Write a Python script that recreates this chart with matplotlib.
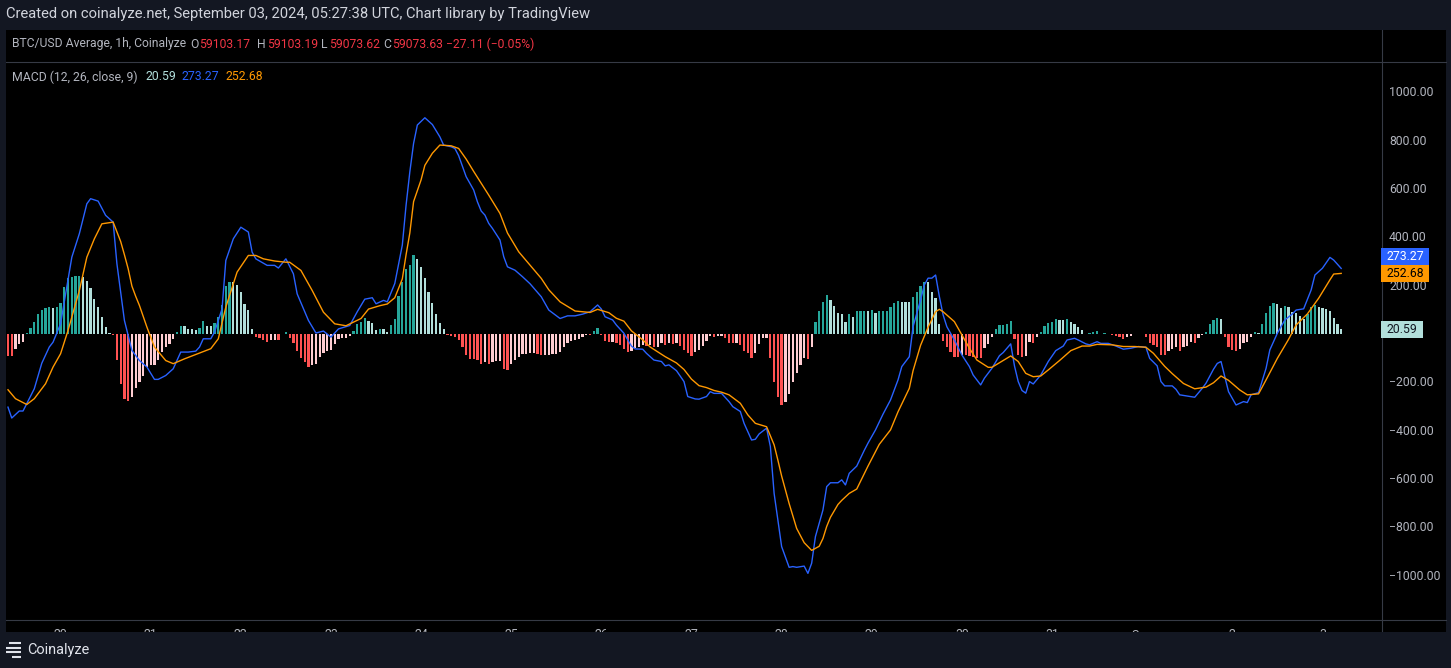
import matplotlib
matplotlib.use('Agg')
import matplotlib.pyplot as plt
import matplotlib.transforms as mtransforms
from matplotlib.patches import Rectangle
import pandas as pd

plt.rcParams['font.family'] = ['Roboto', 'DejaVu Sans']

W, H = 1451, 668

# colours (TradingView dark theme)
BG = '#131722'
PANE = '#000000'
SEP = '#363a45'
TXT = '#b2b5be'
HEAD = '#d1d4dc'
RED_TXT = '#f23645'
MACD_C = '#2962ff'
SIG_C = '#ff9800'
UP_GROW, UP_FALL = '#26a69a', '#b2dfdb'
DN_GROW, DN_FALL = '#ffcdd2', '#ff5252'

# ---------------- data ----------------
first_bar = '2024-08-19 10:00'   # hourly bars

hist = [
    -88, -88, -59, -39, -32, 5, 25, 51, 83, 103,
    108, 115, 108, 115, 129, 198, 232, 239, 240, 243,
    239, 223, 192, 146, 112, 74, 29, 5, -1, -107,
    -204, -266, -276, -259, -221, -197, -172, -135, -128, -126,
    -107, -73, -52, -39, -18, 12, 37, 33, 21, 21,
    17, 25, 54, 37, 33, 48, 74, 120, 201, 219,
    219, 203, 174, 127, 102, 21, -11, -14, -25, -32,
    -22, -21, -25, 3, 12, -15, -36, -69, -98, -114,
    -135, -128, -121, -94, -77, -69, -66, -39, -18, -15,
    -14, -8,
    14, 43, 52, 69, 55, 46, 18, 22, 22, 11,
    39, 63, 159, 218, 270, 287, 328, 312, 279, 235,
    177, 132, 84, 47, 22, -3, -6, -10, -23, -51,
    -86, -102, -102, -106, -123, -116, -123, -113, -110, -109,
    -141, -148, -124, -106, -92, -83, -79, -76, -75, -83,
    -86, -85, -84, -83, -79, -72, -54, -34, -28, -23,
    -17, -10, -3, -3, 14, 28,
    -2, -27, -32, -31, -37, -43, -60, -71, -70, -57,
    -53, -43, -46, -43, -53, -50, -37, -43, -34, -41,
    -37, -48, -64, -78, -88, -71, -64, -48, -26, -6,
    -12, -6, -5, -13, -34, -37, -36, -43, -67, -78,
    -99, -75, -41, -16, -13, -97, -198, -257, -292, -278,
    -248, -195, -161, -126, -97, -103, -53, 53, 95, 136,
    163, 143, 118, 90, 85, 50,
    85, 74, 95, 96, 99, 95, 101, 90, 95, 96,
    99, 115, 132, 140, 136, 135, 134, 157, 177, 202,
    217, 216, 177, 152, 43, -27, -50, -71, -92, -92,
    -85, -87, -90, -92, -96, -96, -57, -39, -9, 21,
    39, 40, 43, 56, -19, -85, -92, -89, -30, -34,
    -9, 9, 35, 46, 53, 63, 60, 60, 63, 53,
    43, 32, 19, 2,
    5, 9, 14, 0, 5, 0, -2, -6, -9, -17,
    -12, -6, 0, 0, 0, -9, -34, -43, -53, -87,
    -87, -67, -60, -53, -67, -50, -48, -30, -37, -13,
    -2, 10, 43, 60, 70, 64, -9, -50, -64, -68,
    -61, -34, -33, -9, 10, 8, 43, 90, 118, 131,
    126, 110, 118, 112, 93, 90, 77, 63, 85, 115,
    121, 112, 108, 104, 97, 67, 43, 20.59,
]

macd_bar = [
    0, 1, 3, 4, 7, 9, 11, 12, 14, 17, 19, 21, 22, 24, 26, 28, 29, 31, 33, 35,
    37, 39, 40, 42, 44, 46, 48, 50, 51, 52, 54, 55, 57, 58, 60, 62, 64, 65, 66, 69,
    71, 72, 74, 76, 77, 80, 82, 84, 86, 88, 91,
    93, 95, 97, 98, 100, 101, 103, 105, 106, 107, 108, 109, 111, 113, 115, 116, 118, 119, 120, 122,
    124, 125, 126, 127, 128, 129, 131, 132, 133, 135, 137, 139, 142, 144, 147, 149, 151, 153, 155, 157,
    158, 159, 161, 162, 164, 166, 167, 169, 170, 172, 174, 175, 176, 178, 180, 181, 183, 184, 186, 187,
    188, 190, 192, 193, 195, 196, 198, 199, 200, 202, 203, 204, 206, 208, 209, 210, 212, 213, 214, 215,
    217, 218, 219, 221, 222, 223, 224,
    226, 228, 229, 231, 233, 235, 237, 238, 240, 241, 243, 244, 245, 246, 247, 248, 249, 250, 252, 254,
    256, 257, 259, 260, 262, 264, 265, 267, 268, 269, 270, 271, 272, 273, 275, 277, 279, 281, 282, 284,
    285, 287,
    288, 290, 291, 293, 295, 297, 299, 301, 303, 304, 306, 307, 308, 310, 311, 312, 314, 316, 318, 319,
    321, 322, 323, 324, 325, 327, 329, 330, 331, 333, 335, 336, 338, 340, 342, 343, 345, 347, 348, 350,
    352, 353, 355,
]
macd = [
    -301, -346, -317, -317, -225, -119, -52, -32, 44, 320, 417, 541, 562, 552, 493, 465, 293, 58, -66, -108,
    -135, -186, -186, -170, -142, -73, -73, -69, -52, -18, -18, 10, 106, 306, 396, 444, 424, 341, 313, 286,
    286, 275, 313, 251, 168, 58, 6, 14, -11, 23, 37,
    94, 146, 152, 127, 141, 135, 211, 370, 535, 673, 791, 867, 897, 869, 818, 784, 777, 770, 740, 653,
    598, 549, 511, 494, 460, 439, 391, 322, 280, 266, 239, 210, 156, 101, 66, 77, 77, 84, 94, 122,
    105, 73, 60, 39, 5, -48, -60, -61, -78, -106, -112, -130, -126, -150, -195, -257, -267, -268, -257, -237,
    -244, -244, -278, -299, -319, -368, -437, -434, -412, -388, -464, -658, -878, -964, -961, -964, -959, -989, -947, -837,
    -727, -630, -614, -614, -602, -623, -575,
    -545, -480, -450, -395, -330, -271, -188, -133, -92, 32, 143, 205, 233, 233, 246, 157, 81, 32, -23, -85,
    -133, -168, -209, -181, -140, -88, -75, -39, -130, -195, -232, -243, -195, -205, -168, -112, -67, -48, -23, -16,
    -23, -39,
    -43, -30, -37, -37, -48, -61, -57, -50, -53, -99, -130, -195, -213, -213, -227, -250, -255, -260, -223, -202,
    -144, -120, -112, -175, -237, -292, -278, -282, -250, -241, -140, -64, 5, 60, 85, 101, 106, 184, 246, 274,
    319, 308, 273.27,
]

signal_bar = [
    0, 2, 5, 7, 10, 12, 14, 16, 19, 21, 23, 25, 28, 29, 30, 31, 32, 33, 34, 35,
    37, 39, 42, 44, 47, 51, 54, 56, 58, 61, 64, 66, 68, 71, 74, 75, 78, 81, 84, 87, 90,
    94, 96, 99, 101, 103, 105, 106, 107, 108, 110, 111, 113, 115, 118, 120, 122, 124, 128, 131,
    133, 136, 139, 142, 144, 147, 151, 155, 157,
    160, 162, 164, 166, 169, 171, 175, 178, 180, 182, 184, 186, 188, 190, 192, 195, 197, 199, 202, 204,
    205, 206, 208, 210, 212, 214, 216, 217, 218, 219, 221, 222, 224,
    226, 229, 232, 235, 237, 240, 241, 243, 245, 247, 248, 249, 252, 254, 256, 258, 261, 262, 264, 267,
    269, 271, 273, 275, 277, 280, 283, 286, 288,
    290, 294, 297, 300, 303, 305, 308, 310, 313, 316, 319, 321, 323, 325, 328, 330, 333, 335, 338, 341,
    343, 346, 349, 352, 353, 355,
]
signal = [
    -229, -266, -290, -266, -204, -135, -80, 17, 182, 320, 396, 458, 465, 425, 385, 330, 272, 200, 158, 120,
    30, -52, -108, -121, -101, -77, -59, -18, 113, 258, 327, 327, 313, 304, 299, 299, 265, 182, 92, 44, 36,
    66, 105, 119, 126, 152, 230, 330, 420, 550, 640, 700, 750, 784, 781, 770, 726, 675, 577, 501,
    420, 342, 287, 232, 185, 135, 97, 91, 104,
    90, 67, 55, 15, -22, -52, -92, -118, -145, -185, -212, -220, -232, -239, -250, -285, -333, -368, -382, -457,
    -520, -586, -700, -803, -862, -894, -877, -845, -795, -757, -704, -687, -658,
    -640, -545, -455, -395, -320, -223, -150, -45, 30, 94, 104, 94, 53, -2, -57, -106, -136, -136, -117, -89,
    -112, -161, -175, -172, -147, -108, -67, -48, -48,
    -41, -43, -50, -50, -53, -78, -132, -162, -203, -225, -218, -200, -172, -190, -230, -250, -246, -188, -99, -20,
    39, 85, 150, 226, 250, 252.68,
]

last_hist, last_macd, last_signal = hist[-1], macd[-1], signal[-1]
macd_params = 'MACD (12, 26, close, 9)'
symbol_label = 'BTC/USD Average, 1h, Coinalyze'
ohlc_keys = ['O', 'H', 'L', 'C']
ohlc_vals = ['59103.17', '59103.19', '59073.62', '59073.63']
change_txt = '\u221227.11 (\u22120.05%)'
y_ticks = [-1000, -800, -600, -400, -200, 0, 200, 400, 600, 800, 1000]
header = 'Created on coinalyze.net, September 03, 2024, 05:27:38 UTC, Chart library by TradingView'

# ---------------- figure ----------------
fig = plt.figure(figsize=(W / 100, H / 100), dpi=100, facecolor=BG)
renderer = fig.canvas.get_renderer()

# pixel-space overlay for the panes, separators and legend texts
base = fig.add_axes([0, 0, 1, 1], zorder=0)
base.set_xlim(0, W)
base.set_ylim(H, 0)
base.axis('off')
base.add_patch(Rectangle((6, 30), 1440, 602, fc=PANE, ec='none'))
base.plot([6, 1446], [61.5, 61.5], color=SEP, lw=0.8)
base.plot([6, 1446], [619.5, 619.5], color=SEP, lw=0.8)
base.plot([1381.5, 1381.5], [30, 632], color=SEP, lw=0.8)


def fit(t, width):
    bb = t.get_window_extent(renderer)
    t.set_fontsize(t.get_fontsize() * width / bb.width)
    return t


def tw(t):
    return t.get_window_extent(renderer).width


fit(base.text(6, 14, header, color=HEAD, fontsize=10, va='center'), 583)

# price pane legend
row = fit(base.text(12, 44, symbol_label, color=TXT, fontsize=9, va='center'), 174)
fs = row.get_fontsize()
for x0, k, v in zip([190, 257, 321.5, 383], ohlc_keys, ohlc_vals):
    t = base.text(x0, 44, k, color=TXT, fontsize=fs, va='center')
    base.text(x0 + tw(t) + 1, 44, v, color=RED_TXT, fontsize=fs, va='center')
base.text(446, 44, change_txt, color=RED_TXT, fontsize=fs, va='center')

# MACD pane legend
lab = fit(base.text(12, 77, macd_params, color=TXT, fontsize=9, va='center'), 126)
fs = lab.get_fontsize()
for x0, v, c in zip([145, 182, 225], [last_hist, last_macd, last_signal], [UP_FALL, MACD_C, SIG_C]):
    base.text(x0, 77, f'{v:.2f}', color=c, fontsize=fs, va='center')

# ---------------- MACD pane ----------------
ax = fig.add_axes([6 / W, 1 - 619 / H, 1375 / W, 558 / H], zorder=1)
ax.set_facecolor('none')
ax.axis('off')
ymin, ymax = -1178, 1132
ax.set_xlim(-0.53, 365.6)
ax.set_ylim(ymin, ymax)

n = len(hist)
colors = []
for i, h in enumerate(hist):
    p = hist[i - 1] if i > 0 else h
    if h >= 0:
        colors.append(UP_GROW if p < h else UP_FALL)
    else:
        colors.append(DN_GROW if p < h else DN_FALL)

ax.bar(range(n), hist, width=0.6, color=colors, linewidth=0)
ax.plot(macd_bar, macd, color=MACD_C, lw=1.0)
ax.plot(signal_bar, signal, color=SIG_C, lw=1.0)

# last-value tags on the price scale (blue one pushed up to avoid overlap)
trans_r = mtransforms.blended_transform_factory(base.transData, ax.transData)
dpp = (ymax - ymin) / 558
tag_h = 17 * dpp
blue_y = max(last_macd, last_signal + tag_h)
tags = [(blue_y, last_macd, MACD_C, 'white', 48),
        (last_signal, last_signal, SIG_C, 'black', 48),
        (last_hist, last_hist, UP_FALL, '#131722', 42)]

# right price scale; a tick label hidden under a tag is left out
for v in y_ticks:
    if any(abs(v - yv) < tag_h * 0.6 for yv, *_ in tags):
        continue
    s = f'{v:.2f}'.replace('-', '\u2212')
    ax.text(1389, v, s, transform=trans_r, ha='left', va='center', color=TXT,
            fontsize=8.8, clip_on=False)

for yv, val, fc, tc, w in tags:
    ax.add_patch(Rectangle((1381, yv - tag_h / 2), w, tag_h, transform=trans_r,
                           fc=fc, ec='none', clip_on=False, zorder=5))
    ax.text(1381 + w / 2, yv, f'{val:.2f}', transform=trans_r, ha='center', va='center',
            color=tc, fontsize=8.8, zorder=6, clip_on=False)

# time scale (mostly hidden under the footer, as in the screenshot)
times = pd.date_range(first_bar, periods=n, freq='h')
trans_t = mtransforms.blended_transform_factory(ax.transData, base.transData)
for i, t in enumerate(times):
    if t.hour == 0:
        lbl = 'Sep' if t.day == 1 else str(t.day)
        ax.text(i, 635, lbl, transform=trans_t, ha='center', va='center',
                color=TXT, fontsize=8.8, clip_on=False)

# ---------------- footer ----------------
foot = fig.add_axes([0, 0, 1, 36 / H], zorder=2)
foot.set_facecolor(BG)
foot.set_xlim(0, W)
foot.set_ylim(H, 632)
foot.set_xticks([])
foot.set_yticks([])
for sp in foot.spines.values():
    sp.set_visible(False)
for yy, xa in [(643, 9), (647.5, 6), (652, 6), (656.5, 12)]:
    foot.plot([xa, 21], [yy, yy], color='#e0e3eb', lw=1.5, solid_capstyle='butt')
fit(foot.text(27, 650, 'Coinalyze', color='#e0e3eb', fontsize=10, va='center'), 62)

fig.savefig('out.png', dpi=100, facecolor=BG)
